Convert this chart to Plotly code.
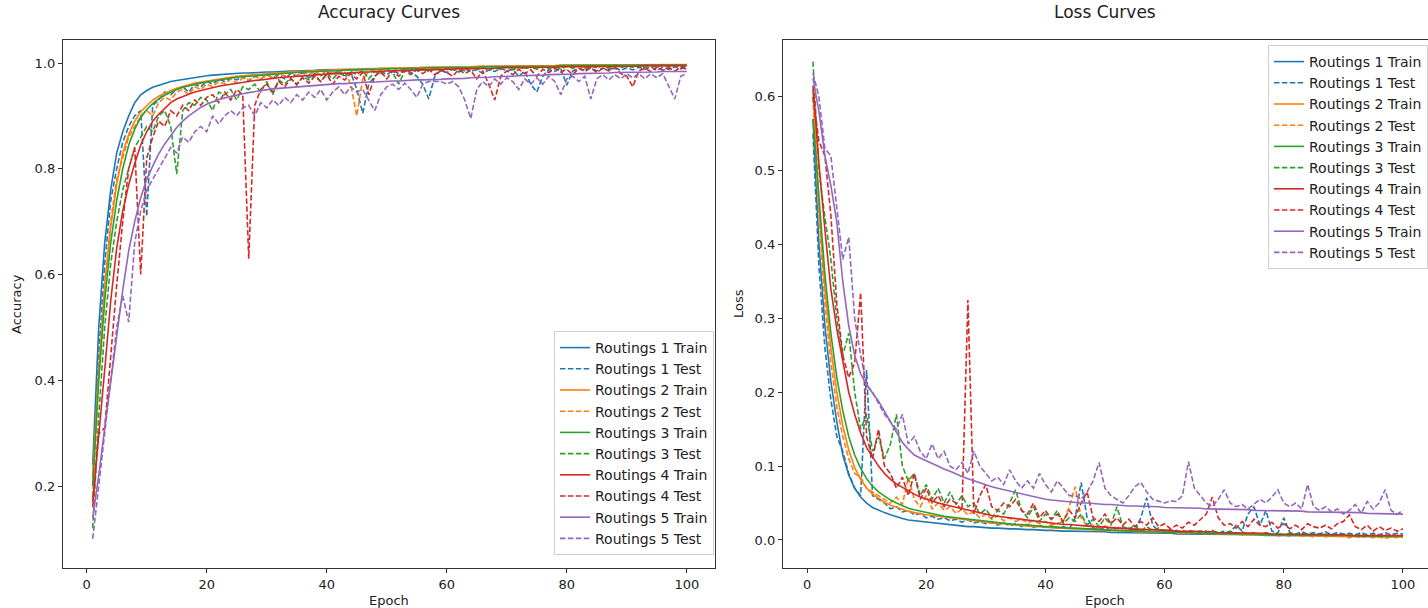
import plotly.graph_objects as go

epochs = list(range(1, 101))
names = ["Routings 1", "Routings 2", "Routings 3", "Routings 4", "Routings 5"]
colors = ["#1f77b4", "#ff7f0e", "#2ca02c", "#d62728", "#9467bd"]

acc_train_1 = [0.24, 0.50, 0.66, 0.76, 0.83, 0.87, 0.90, 0.925, 0.940, 0.948,
               0.954, 0.958, 0.962, 0.965, 0.967, 0.969, 0.971, 0.973, 0.974, 0.976,
               0.977, 0.978, 0.978, 0.979, 0.980, 0.981, 0.981, 0.982, 0.982, 0.983,
               0.983, 0.984, 0.984, 0.985, 0.985, 0.985, 0.986, 0.986, 0.987, 0.987,
               0.987, 0.988, 0.988, 0.988, 0.988, 0.989, 0.989, 0.989, 0.989, 0.990,
               0.990, 0.990, 0.990, 0.991, 0.991, 0.991, 0.991, 0.991, 0.992, 0.992,
               0.992, 0.992, 0.992, 0.992, 0.993, 0.993, 0.993, 0.993, 0.993, 0.993,
               0.993, 0.994, 0.994, 0.994, 0.994, 0.994, 0.994, 0.994, 0.994, 0.995,
               0.995, 0.995, 0.995, 0.995, 0.995, 0.995, 0.995, 0.995, 0.995, 0.995,
               0.995, 0.996, 0.996, 0.996, 0.996, 0.996, 0.996, 0.996, 0.996, 0.996]
acc_train_2 = [0.22, 0.42, 0.58, 0.69, 0.77, 0.83, 0.865, 0.890, 0.908, 0.920,
               0.930, 0.937, 0.943, 0.948, 0.952, 0.956, 0.959, 0.962, 0.964, 0.966,
               0.968, 0.970, 0.972, 0.973, 0.975, 0.976, 0.977, 0.978, 0.979, 0.980,
               0.981, 0.982, 0.982, 0.983, 0.984, 0.984, 0.985, 0.985, 0.986, 0.986,
               0.987, 0.987, 0.988, 0.988, 0.988, 0.989, 0.989, 0.989, 0.990, 0.990,
               0.990, 0.991, 0.991, 0.991, 0.991, 0.992, 0.992, 0.992, 0.992, 0.993,
               0.993, 0.993, 0.993, 0.993, 0.994, 0.994, 0.994, 0.994, 0.994, 0.994,
               0.995, 0.995, 0.995, 0.995, 0.995, 0.995, 0.995, 0.995, 0.996, 0.996,
               0.996, 0.996, 0.996, 0.996, 0.996, 0.996, 0.996, 0.996, 0.996, 0.996,
               0.996, 0.996, 0.997, 0.997, 0.997, 0.997, 0.997, 0.997, 0.997, 0.997]
acc_train_3 = [0.20, 0.40, 0.55, 0.66, 0.74, 0.80, 0.845, 0.875, 0.897, 0.912,
               0.923, 0.932, 0.939, 0.945, 0.950, 0.954, 0.957, 0.960, 0.962, 0.964,
               0.966, 0.968, 0.970, 0.972, 0.973, 0.974, 0.975, 0.976, 0.977, 0.978,
               0.979, 0.980, 0.981, 0.981, 0.982, 0.983, 0.983, 0.984, 0.984, 0.985,
               0.985, 0.986, 0.986, 0.987, 0.987, 0.987, 0.988, 0.988, 0.988, 0.989,
               0.989, 0.989, 0.990, 0.990, 0.990, 0.990, 0.991, 0.991, 0.991, 0.991,
               0.992, 0.992, 0.992, 0.992, 0.992, 0.993, 0.993, 0.993, 0.993, 0.993,
               0.993, 0.994, 0.994, 0.994, 0.994, 0.994, 0.994, 0.994, 0.995, 0.995,
               0.995, 0.995, 0.995, 0.995, 0.995, 0.995, 0.995, 0.995, 0.995, 0.995,
               0.995, 0.995, 0.996, 0.996, 0.996, 0.996, 0.996, 0.996, 0.996, 0.996]
acc_train_4 = [0.17, 0.29, 0.42, 0.55, 0.65, 0.72, 0.77, 0.81, 0.845, 0.870,
               0.890, 0.903, 0.915, 0.925, 0.932, 0.937, 0.941, 0.945, 0.948, 0.951,
               0.954, 0.956, 0.958, 0.960, 0.962, 0.964, 0.965, 0.967, 0.968, 0.970,
               0.971, 0.972, 0.973, 0.974, 0.975, 0.976, 0.977, 0.978, 0.978, 0.979,
               0.980, 0.980, 0.981, 0.982, 0.982, 0.983, 0.983, 0.984, 0.984, 0.985,
               0.985, 0.986, 0.986, 0.986, 0.987, 0.987, 0.987, 0.988, 0.988, 0.988,
               0.989, 0.989, 0.989, 0.989, 0.990, 0.990, 0.990, 0.990, 0.991, 0.991,
               0.991, 0.991, 0.991, 0.992, 0.992, 0.992, 0.992, 0.992, 0.993, 0.993,
               0.993, 0.993, 0.993, 0.993, 0.994, 0.994, 0.994, 0.994, 0.994, 0.994,
               0.994, 0.994, 0.995, 0.995, 0.995, 0.995, 0.995, 0.995, 0.995, 0.995]
acc_train_5 = [0.14, 0.22, 0.31, 0.40, 0.49, 0.57, 0.645, 0.700, 0.745, 0.780,
               0.805, 0.828, 0.847, 0.863, 0.878, 0.890, 0.900, 0.908, 0.916, 0.922,
               0.927, 0.931, 0.934, 0.937, 0.940, 0.942, 0.944, 0.946, 0.948, 0.950,
               0.951, 0.952, 0.953, 0.954, 0.955, 0.956, 0.957, 0.958, 0.959, 0.959,
               0.960, 0.961, 0.961, 0.962, 0.963, 0.963, 0.964, 0.964, 0.965, 0.965,
               0.966, 0.966, 0.967, 0.967, 0.968, 0.968, 0.968, 0.969, 0.969, 0.970,
               0.970, 0.971, 0.971, 0.972, 0.972, 0.973, 0.973, 0.974, 0.974, 0.975,
               0.975, 0.976, 0.976, 0.977, 0.977, 0.977, 0.978, 0.978, 0.979, 0.979,
               0.979, 0.980, 0.980, 0.980, 0.981, 0.981, 0.981, 0.982, 0.982, 0.982,
               0.982, 0.983, 0.983, 0.983, 0.983, 0.984, 0.984, 0.984, 0.984, 0.984]

acc_test_1 = [0.20, 0.45, 0.62, 0.74, 0.80, 0.85, 0.88, 0.90, 0.91, 0.71,
              0.92, 0.93, 0.945, 0.94, 0.95, 0.955, 0.945, 0.96, 0.955, 0.965,
              0.96, 0.97, 0.965, 0.972, 0.968, 0.975, 0.965, 0.975, 0.97, 0.978,
              0.972, 0.977, 0.97, 0.98, 0.975, 0.982, 0.972, 0.98, 0.976, 0.983,
              0.978, 0.985, 0.975, 0.982, 0.95, 0.905, 0.96, 0.975, 0.985, 0.978,
              0.986, 0.98, 0.987, 0.982, 0.975, 0.96, 0.932, 0.975, 0.986, 0.982,
              0.988, 0.983, 0.989, 0.984, 0.988, 0.98, 0.987, 0.984, 0.99, 0.985,
              0.988, 0.975, 0.985, 0.96, 0.945, 0.975, 0.988, 0.984, 0.99, 0.958,
              0.985, 0.99, 0.986, 0.991, 0.985, 0.99, 0.987, 0.992, 0.986, 0.991,
              0.987, 0.992, 0.988, 0.993, 0.986, 0.992, 0.988, 0.993, 0.989, 0.992]
acc_test_2 = [0.18, 0.40, 0.57, 0.70, 0.78, 0.82, 0.86, 0.88, 0.90, 0.91,
              0.90, 0.925, 0.935, 0.93, 0.945, 0.95, 0.94, 0.955, 0.95, 0.96,
              0.955, 0.965, 0.96, 0.97, 0.962, 0.972, 0.968, 0.975, 0.97, 0.977,
              0.972, 0.98, 0.975, 0.982, 0.976, 0.983, 0.978, 0.984, 0.978, 0.985,
              0.98, 0.986, 0.982, 0.96, 0.90, 0.97, 0.984, 0.988, 0.983, 0.989,
              0.985, 0.99, 0.986, 0.99, 0.987, 0.991, 0.986, 0.992, 0.987, 0.991,
              0.988, 0.993, 0.987, 0.992, 0.989, 0.994, 0.988, 0.993, 0.99, 0.994,
              0.989, 0.995, 0.99, 0.994, 0.991, 0.995, 0.99, 0.994, 0.992, 0.996,
              0.99, 0.995, 0.991, 0.996, 0.992, 0.995, 0.991, 0.996, 0.993, 0.995,
              0.992, 0.996, 0.993, 0.997, 0.992, 0.996, 0.994, 0.997, 0.993, 0.996]
acc_test_3 = [0.12, 0.33, 0.50, 0.62, 0.70, 0.76, 0.80, 0.84, 0.86, 0.88,
              0.87, 0.90, 0.91, 0.88, 0.79, 0.91, 0.925, 0.92, 0.935, 0.93,
              0.91, 0.945, 0.94, 0.95, 0.93, 0.955, 0.95, 0.96, 0.945, 0.965,
              0.94, 0.968, 0.96, 0.972, 0.958, 0.975, 0.968, 0.978, 0.965, 0.98,
              0.97, 0.982, 0.975, 0.984, 0.978, 0.986, 0.97, 0.984, 0.98, 0.987,
              0.982, 0.96, 0.985, 0.988, 0.983, 0.99, 0.984, 0.989, 0.985, 0.99,
              0.986, 0.991, 0.985, 0.99, 0.987, 0.992, 0.986, 0.991, 0.988, 0.993,
              0.987, 0.992, 0.989, 0.993, 0.988, 0.994, 0.99, 0.993, 0.989, 0.994,
              0.99, 0.995, 0.989, 0.994, 0.991, 0.995, 0.99, 0.996, 0.991, 0.995,
              0.992, 0.996, 0.991, 0.995, 0.993, 0.997, 0.992, 0.996, 0.993, 0.995]
acc_test_4 = [0.16, 0.30, 0.31, 0.45, 0.58, 0.70, 0.80, 0.84, 0.60, 0.82,
              0.86, 0.89, 0.88, 0.91, 0.90, 0.92, 0.91, 0.93, 0.92, 0.935,
              0.94, 0.925, 0.945, 0.93, 0.95, 0.94, 0.63, 0.92, 0.95, 0.96,
              0.945, 0.965, 0.955, 0.97, 0.96, 0.972, 0.962, 0.975, 0.965, 0.978,
              0.96, 0.975, 0.968, 0.98, 0.97, 0.982, 0.94, 0.975, 0.984, 0.97,
              0.985, 0.975, 0.986, 0.978, 0.987, 0.98, 0.988, 0.978, 0.986, 0.982,
              0.975, 0.988, 0.98, 0.986, 0.97, 0.985, 0.96, 0.93, 0.975, 0.985,
              0.978, 0.988, 0.98, 0.987, 0.975, 0.988, 0.982, 0.99, 0.983, 0.988,
              0.978, 0.99, 0.984, 0.991, 0.982, 0.99, 0.985, 0.991, 0.98, 0.975,
              0.955, 0.985, 0.99, 0.984, 0.992, 0.986, 0.991, 0.985, 0.992, 0.988]
acc_test_5 = [0.10, 0.20, 0.30, 0.40, 0.50, 0.56, 0.51, 0.66, 0.72, 0.76,
              0.78, 0.80, 0.82, 0.84, 0.83, 0.86, 0.85, 0.87, 0.88, 0.87,
              0.90, 0.885, 0.90, 0.91, 0.90, 0.915, 0.92, 0.90, 0.925, 0.915,
              0.93, 0.92, 0.935, 0.925, 0.94, 0.93, 0.945, 0.935, 0.95, 0.93,
              0.945, 0.955, 0.94, 0.955, 0.945, 0.95, 0.93, 0.91, 0.94, 0.955,
              0.96, 0.95, 0.962, 0.95, 0.935, 0.96, 0.965, 0.965, 0.965, 0.96,
              0.965, 0.955, 0.93, 0.895, 0.95, 0.965, 0.955, 0.97, 0.96, 0.972,
              0.965, 0.95, 0.97, 0.96, 0.972, 0.96, 0.975, 0.965, 0.94, 0.97,
              0.975, 0.965, 0.975, 0.932, 0.97, 0.978, 0.968, 0.978, 0.97, 0.98,
              0.972, 0.98, 0.97, 0.98, 0.972, 0.98, 0.955, 0.932, 0.975, 0.98]

loss_train_1 = [0.570, 0.400, 0.290, 0.215, 0.160, 0.115, 0.088, 0.070, 0.058, 0.050,
                0.044, 0.040, 0.037, 0.034, 0.031, 0.029, 0.027, 0.026, 0.025, 0.024,
                0.023, 0.022, 0.021, 0.020, 0.019, 0.019, 0.018, 0.018, 0.017, 0.017,
                0.016, 0.016, 0.015, 0.015, 0.015, 0.014, 0.014, 0.014, 0.013, 0.013,
                0.013, 0.012, 0.012, 0.012, 0.012, 0.011, 0.011, 0.011, 0.011, 0.011,
                0.010, 0.010, 0.010, 0.010, 0.010, 0.009, 0.009, 0.009, 0.009, 0.009,
                0.009, 0.008, 0.008, 0.008, 0.008, 0.008, 0.008, 0.008, 0.007, 0.007,
                0.007, 0.007, 0.007, 0.007, 0.007, 0.007, 0.006, 0.006, 0.006, 0.006,
                0.006, 0.006, 0.006, 0.006, 0.006, 0.006, 0.005, 0.005, 0.005, 0.005,
                0.005, 0.005, 0.005, 0.005, 0.005, 0.005, 0.005, 0.005, 0.005, 0.005]
loss_train_2 = [0.610, 0.450, 0.340, 0.260, 0.200, 0.155, 0.122, 0.098, 0.082, 0.070,
                0.062, 0.056, 0.051, 0.047, 0.044, 0.041, 0.039, 0.037, 0.035, 0.034,
                0.033, 0.032, 0.030, 0.029, 0.028, 0.027, 0.026, 0.025, 0.025, 0.024,
                0.023, 0.022, 0.022, 0.021, 0.020, 0.020, 0.019, 0.018, 0.018, 0.017,
                0.017, 0.016, 0.016, 0.015, 0.015, 0.015, 0.014, 0.014, 0.013, 0.013,
                0.013, 0.012, 0.012, 0.012, 0.011, 0.011, 0.011, 0.011, 0.010, 0.010,
                0.010, 0.010, 0.009, 0.009, 0.009, 0.009, 0.009, 0.008, 0.008, 0.008,
                0.008, 0.008, 0.007, 0.007, 0.007, 0.007, 0.007, 0.007, 0.006, 0.006,
                0.006, 0.006, 0.006, 0.006, 0.006, 0.006, 0.005, 0.005, 0.005, 0.005,
                0.005, 0.005, 0.005, 0.005, 0.005, 0.004, 0.004, 0.004, 0.004, 0.004]
loss_train_3 = [0.570, 0.460, 0.360, 0.280, 0.220, 0.175, 0.140, 0.115, 0.097, 0.083,
                0.073, 0.065, 0.059, 0.054, 0.050, 0.046, 0.043, 0.041, 0.039, 0.037,
                0.035, 0.034, 0.032, 0.031, 0.030, 0.029, 0.028, 0.027, 0.026, 0.025,
                0.024, 0.023, 0.023, 0.022, 0.021, 0.021, 0.020, 0.019, 0.019, 0.018,
                0.018, 0.017, 0.017, 0.016, 0.016, 0.015, 0.015, 0.015, 0.014, 0.014,
                0.013, 0.013, 0.013, 0.012, 0.012, 0.012, 0.011, 0.011, 0.011, 0.011,
                0.010, 0.010, 0.010, 0.010, 0.009, 0.009, 0.009, 0.009, 0.009, 0.008,
                0.008, 0.008, 0.008, 0.008, 0.008, 0.007, 0.007, 0.007, 0.007, 0.007,
                0.007, 0.007, 0.006, 0.006, 0.006, 0.006, 0.006, 0.006, 0.006, 0.006,
                0.006, 0.005, 0.005, 0.005, 0.005, 0.005, 0.005, 0.005, 0.005, 0.005]
loss_train_4 = [0.615, 0.510, 0.420, 0.340, 0.285, 0.240, 0.200, 0.170, 0.145, 0.125,
                0.112, 0.100, 0.090, 0.082, 0.076, 0.071, 0.066, 0.062, 0.058, 0.055,
                0.052, 0.050, 0.048, 0.046, 0.044, 0.042, 0.040, 0.038, 0.036, 0.034,
                0.033, 0.032, 0.031, 0.030, 0.029, 0.028, 0.027, 0.026, 0.025, 0.024,
                0.023, 0.022, 0.021, 0.021, 0.020, 0.019, 0.019, 0.018, 0.018, 0.017,
                0.017, 0.016, 0.016, 0.015, 0.015, 0.014, 0.014, 0.014, 0.013, 0.013,
                0.013, 0.012, 0.012, 0.012, 0.011, 0.011, 0.011, 0.011, 0.010, 0.010,
                0.010, 0.010, 0.009, 0.009, 0.009, 0.009, 0.009, 0.008, 0.008, 0.008,
                0.008, 0.008, 0.008, 0.007, 0.007, 0.007, 0.007, 0.007, 0.007, 0.007,
                0.006, 0.006, 0.006, 0.006, 0.006, 0.006, 0.006, 0.006, 0.006, 0.006]
loss_train_5 = [0.625, 0.580, 0.520, 0.480, 0.430, 0.350, 0.290, 0.250, 0.225, 0.210,
                0.199, 0.188, 0.174, 0.160, 0.145, 0.132, 0.123, 0.115, 0.111, 0.107,
                0.103, 0.100, 0.096, 0.093, 0.089, 0.086, 0.083, 0.080, 0.077, 0.074,
                0.072, 0.070, 0.068, 0.066, 0.064, 0.062, 0.060, 0.058, 0.056, 0.055,
                0.054, 0.053, 0.052, 0.052, 0.051, 0.050, 0.050, 0.049, 0.049, 0.048,
                0.048, 0.047, 0.047, 0.046, 0.046, 0.046, 0.045, 0.045, 0.045, 0.044,
                0.044, 0.044, 0.043, 0.043, 0.043, 0.043, 0.042, 0.042, 0.042, 0.042,
                0.041, 0.041, 0.041, 0.041, 0.040, 0.040, 0.040, 0.040, 0.040, 0.039,
                0.039, 0.039, 0.039, 0.038, 0.038, 0.038, 0.038, 0.038, 0.037, 0.037,
                0.037, 0.037, 0.037, 0.036, 0.036, 0.036, 0.036, 0.036, 0.036, 0.035]

loss_test_1 = [0.550, 0.370, 0.260, 0.190, 0.140, 0.120, 0.090, 0.070, 0.060, 0.230,
               0.060, 0.055, 0.050, 0.042, 0.045, 0.038, 0.040, 0.034, 0.036, 0.030,
               0.032, 0.028, 0.030, 0.026, 0.028, 0.024, 0.027, 0.023, 0.025, 0.022,
               0.024, 0.020, 0.023, 0.019, 0.022, 0.018, 0.021, 0.017, 0.020, 0.016,
               0.019, 0.016, 0.018, 0.015, 0.030, 0.078, 0.030, 0.016, 0.014, 0.017,
               0.013, 0.016, 0.012, 0.015, 0.012, 0.030, 0.057, 0.020, 0.012, 0.014,
               0.011, 0.013, 0.010, 0.013, 0.011, 0.012, 0.010, 0.013, 0.009, 0.012,
               0.010, 0.020, 0.012, 0.035, 0.045, 0.020, 0.040, 0.012, 0.009, 0.030,
               0.010, 0.008, 0.011, 0.008, 0.010, 0.008, 0.011, 0.007, 0.010, 0.008,
               0.009, 0.007, 0.010, 0.007, 0.009, 0.007, 0.010, 0.007, 0.009, 0.008]
loss_test_2 = [0.600, 0.440, 0.320, 0.240, 0.180, 0.140, 0.110, 0.090, 0.085, 0.070,
               0.065, 0.060, 0.055, 0.050, 0.058, 0.048, 0.085, 0.055, 0.045, 0.060,
               0.042, 0.050, 0.040, 0.045, 0.036, 0.042, 0.034, 0.038, 0.030, 0.035,
               0.028, 0.033, 0.026, 0.030, 0.025, 0.028, 0.023, 0.026, 0.022, 0.025,
               0.020, 0.023, 0.025, 0.045, 0.072, 0.030, 0.018, 0.020, 0.016, 0.019,
               0.015, 0.018, 0.014, 0.016, 0.013, 0.015, 0.012, 0.014, 0.011, 0.013,
               0.010, 0.012, 0.009, 0.011, 0.009, 0.010, 0.008, 0.010, 0.008, 0.009,
               0.007, 0.009, 0.007, 0.008, 0.006, 0.008, 0.006, 0.008, 0.005, 0.007,
               0.005, 0.007, 0.005, 0.006, 0.004, 0.006, 0.004, 0.006, 0.004, 0.005,
               0.003, 0.005, 0.003, 0.005, 0.003, 0.004, 0.002, 0.004, 0.003, 0.004]
loss_test_3 = [0.648, 0.500, 0.437, 0.380, 0.300, 0.250, 0.280, 0.200, 0.150, 0.170,
               0.120, 0.140, 0.110, 0.130, 0.170, 0.100, 0.080, 0.090, 0.060, 0.075,
               0.055, 0.070, 0.050, 0.065, 0.048, 0.060, 0.045, 0.050, 0.035, 0.042,
               0.030, 0.040, 0.035, 0.050, 0.068, 0.040, 0.030, 0.045, 0.025, 0.035,
               0.028, 0.040, 0.022, 0.030, 0.025, 0.035, 0.020, 0.028, 0.018, 0.030,
               0.020, 0.045, 0.018, 0.015, 0.020, 0.012, 0.018, 0.013, 0.016, 0.011,
               0.014, 0.010, 0.013, 0.009, 0.012, 0.010, 0.012, 0.008, 0.011, 0.009,
               0.012, 0.008, 0.011, 0.008, 0.010, 0.007, 0.010, 0.007, 0.009, 0.007,
               0.009, 0.006, 0.009, 0.006, 0.008, 0.006, 0.008, 0.005, 0.008, 0.006,
               0.007, 0.005, 0.008, 0.005, 0.007, 0.005, 0.007, 0.005, 0.006, 0.006]
loss_test_4 = [0.600, 0.540, 0.520, 0.440, 0.320, 0.250, 0.220, 0.240, 0.335, 0.140,
               0.110, 0.150, 0.100, 0.090, 0.070, 0.085, 0.060, 0.090, 0.055, 0.070,
               0.050, 0.060, 0.045, 0.055, 0.050, 0.040, 0.325, 0.035, 0.060, 0.075,
               0.045, 0.040, 0.050, 0.045, 0.055, 0.040, 0.035, 0.050, 0.030, 0.040,
               0.028, 0.035, 0.025, 0.040, 0.030, 0.050, 0.065, 0.030, 0.025, 0.035,
               0.022, 0.030, 0.020, 0.028, 0.018, 0.025, 0.020, 0.030, 0.018, 0.022,
               0.015, 0.020, 0.016, 0.024, 0.020, 0.028, 0.035, 0.058, 0.030, 0.020,
               0.022, 0.016, 0.025, 0.018, 0.028, 0.020, 0.018, 0.024, 0.016, 0.022,
               0.015, 0.020, 0.014, 0.022, 0.018, 0.016, 0.020, 0.015, 0.022, 0.025,
               0.034, 0.018, 0.014, 0.020, 0.012, 0.018, 0.013, 0.016, 0.012, 0.015]
loss_test_5 = [0.632, 0.600, 0.530, 0.520, 0.450, 0.380, 0.410, 0.300, 0.250, 0.210,
               0.200, 0.185, 0.170, 0.160, 0.150, 0.170, 0.130, 0.140, 0.120, 0.110,
               0.130, 0.110, 0.120, 0.100, 0.095, 0.105, 0.090, 0.120, 0.100, 0.090,
               0.080, 0.085, 0.075, 0.095, 0.080, 0.070, 0.080, 0.070, 0.090, 0.075,
               0.065, 0.080, 0.070, 0.060, 0.060, 0.055, 0.065, 0.080, 0.105, 0.070,
               0.060, 0.055, 0.050, 0.060, 0.072, 0.078, 0.065, 0.055, 0.052, 0.050,
               0.053, 0.052, 0.060, 0.106, 0.070, 0.060, 0.050, 0.045, 0.055, 0.068,
               0.050, 0.045, 0.048, 0.042, 0.048, 0.055, 0.050, 0.058, 0.068, 0.050,
               0.045, 0.050, 0.042, 0.075, 0.045, 0.040, 0.045, 0.038, 0.042, 0.035,
               0.040, 0.048, 0.036, 0.052, 0.042, 0.050, 0.068, 0.040, 0.035, 0.040]

acc_train = [acc_train_1, acc_train_2, acc_train_3, acc_train_4, acc_train_5]
acc_test = [acc_test_1, acc_test_2, acc_test_3, acc_test_4, acc_test_5]
loss_train = [loss_train_1, loss_train_2, loss_train_3, loss_train_4, loss_train_5]
loss_test = [loss_test_1, loss_test_2, loss_test_3, loss_test_4, loss_test_5]

FONT = "DejaVu Sans"
W, H = 1428, 608
DASH = "5.5px,2.4px"
LW = 1.6

fig = go.Figure()
for i in range(5):
    fig.add_trace(go.Scatter(x=epochs, y=acc_train[i], mode="lines", name=f"{names[i]} Train",
                             line=dict(color=colors[i], width=LW), xaxis="x", yaxis="y", legend="legend"))
    fig.add_trace(go.Scatter(x=epochs, y=acc_test[i], mode="lines", name=f"{names[i]} Test",
                             line=dict(color=colors[i], width=LW, dash=DASH), xaxis="x", yaxis="y", legend="legend"))
for i in range(5):
    fig.add_trace(go.Scatter(x=epochs, y=loss_train[i], mode="lines", name=f"{names[i]} Train",
                             line=dict(color=colors[i], width=LW), xaxis="x2", yaxis="y2", legend="legend2"))
    fig.add_trace(go.Scatter(x=epochs, y=loss_test[i], mode="lines", name=f"{names[i]} Test",
                             line=dict(color=colors[i], width=LW, dash=DASH), xaxis="x2", yaxis="y2", legend="legend2"))

axis_common = dict(showline=True, mirror=True, linecolor="#333", linewidth=1.2, ticks="outside",
                   ticklen=4, tickwidth=1, tickcolor="#333", showgrid=False, zeroline=False,
                   tickfont=dict(family=FONT, size=13, color="#222"))

legend_common = dict(font=dict(family=FONT, size=14, color="#222"), bgcolor="rgba(255,255,255,0.85)",
                     bordercolor="#d0d0d0", borderwidth=1, itemwidth=30, tracegroupgap=0)

ydom = [(H - 568) / H, (H - 40) / H]


def px_x(p):
    return p / W


def px_y(p):
    return 1 - p / H


def label(text, x, y, size, angle=0):
    return dict(text=text, x=px_x(x), y=px_y(y), xref="paper", yref="paper", textangle=angle,
                showarrow=False, font=dict(family=FONT, size=size, color="#222"),
                xanchor="center", yanchor="middle")


fig.update_layout(
    width=W, height=H,
    margin=dict(l=0, r=0, t=0, b=0),
    plot_bgcolor="white", paper_bgcolor="white",
    font=dict(family=FONT, color="#222"),
    xaxis=dict(domain=[px_x(63), px_x(715)], range=[-3.95, 104.7], tickvals=[0, 20, 40, 60, 80, 100],
               anchor="y", **axis_common),
    yaxis=dict(domain=ydom, range=[0.045, 1.0435], tickvals=[0.2, 0.4, 0.6, 0.8, 1.0],
               ticktext=["0.2", "0.4", "0.6", "0.8", "1.0"], anchor="x", **axis_common),
    xaxis2=dict(domain=[px_x(783), 1.0], range=[-4.03, 104.2], tickvals=[0, 20, 40, 60, 80, 100],
                anchor="y2", **axis_common),
    yaxis2=dict(domain=ydom, range=[-0.038, 0.677], tickvals=[0.0, 0.1, 0.2, 0.3, 0.4, 0.5, 0.6],
                ticktext=["0.0", "0.1", "0.2", "0.3", "0.4", "0.5", "0.6"], anchor="x2", **axis_common),
    legend=dict(x=px_x(714), xanchor="right", y=px_y(555), yanchor="bottom", **legend_common),
    legend2=dict(x=1.0, xanchor="right", y=px_y(45), yanchor="top", **legend_common),
    annotations=[
        label("Accuracy Curves", 389, 12, 17),
        label("Loss Curves", 1105, 12, 17),
        label("Epoch", 389, 600, 13),
        label("Epoch", 1105, 600, 13),
        label("Accuracy", 16, 304, 13, -90),
        label("Loss", 738, 304, 13, -90),
    ],
)

fig.write_html("out.html", config={"displayModeBar": False},
               post_script="document.body.style.margin='0';document.body.style.overflow='hidden';")
